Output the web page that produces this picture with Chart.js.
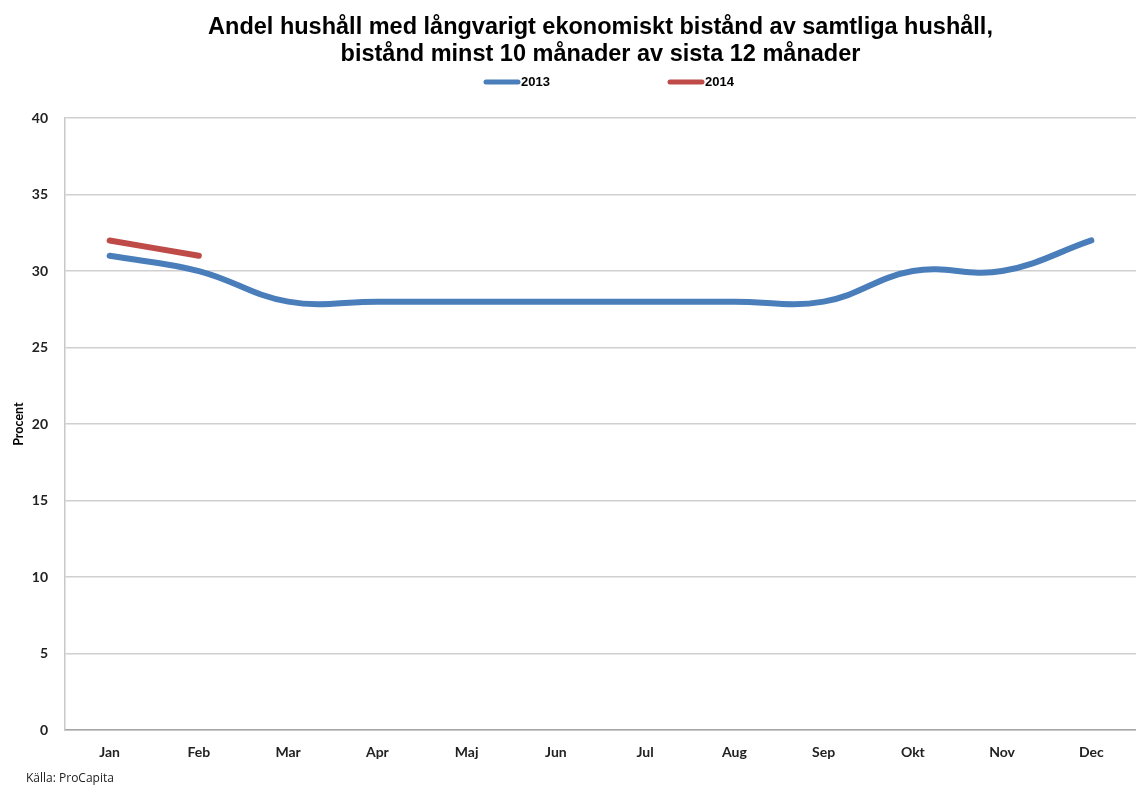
<!DOCTYPE html>
<html>
<head>
<meta charset="utf-8">
<script src="https://cdn.jsdelivr.net/npm/chart.js@4.4.0/dist/chart.umd.min.js"></script>
<style>
  html, body { margin: 0; padding: 0; background: #fff; }
  #wrap { width: 1136px; height: 787px; position: relative; }
</style>
</head>
<body>
<div id="wrap"><canvas id="myChart"></canvas></div>
<script>
const months = ["Jan", "Feb", "Mar", "Apr", "Maj", "Jun", "Jul", "Aug", "Sep", "Okt", "Nov", "Dec"];
const values2013 = [31, 30, 28, 28, 28, 28, 28, 28, 28, 30, 30, 32];
const values2014 = [32, 31];
const yTicks = [0, 5, 10, 15, 20, 25, 30, 35, 40];
const titleLines = [
  "Andel hushåll med långvarigt ekonomiskt bistånd av samtliga hushåll,",
  "bistånd minst 10 månader av sista 12 månader",
];
const sourceText = "Källa: ProCapita";

const blue = "rgb(74, 126, 187)";
const red = "rgb(190, 75, 72)";

// legend + source note drawn by hand
const extras = {
  id: "extras",
  afterDraw(chart) {
    const c = chart.ctx;
    c.save();
    const items = [
      { label: "2013", color: blue, x: 484 },
      { label: "2014", color: red, x: 668 },
    ];
    c.font = "bold 13px 'Liberation Sans', Arial, sans-serif";
    c.textBaseline = "middle";
    items.forEach((it) => {
      c.strokeStyle = it.color;
      c.lineWidth = 5;
      c.lineCap = "round";
      c.beginPath();
      c.moveTo(it.x + 2, 82);
      c.lineTo(it.x + 34, 82);
      c.stroke();
      c.fillStyle = "#000";
      c.fillText(it.label, it.x + 37, 82);
    });
    c.font = "12px 'Open Sans', sans-serif";
    c.fillStyle = "#222";
    c.textBaseline = "middle";
    c.fillText(sourceText, 26, 779);
    c.restore();
  },
};

var ctx = document.getElementById("myChart").getContext("2d");
var chart = new Chart(ctx, {
  type: "line",
  data: {
    labels: months,
    datasets: [
      {
        label: "2013",
        data: values2013,
        borderColor: blue,
        borderWidth: 6,
        tension: 0.4,
        borderCapStyle: "round",
      },
      {
        label: "2014",
        data: values2014,
        borderColor: red,
        borderWidth: 6,
        tension: 0.4,
        borderCapStyle: "round",
      },
    ],
  },
  options: {
    animation: { duration: 0 },
    responsive: true,
    maintainAspectRatio: false,
    layout: { padding: { left: 0, right: 0, top: 0, bottom: 0 } },
    elements: { point: { radius: 0 } },
    plugins: {
      legend: { display: false },
      tooltip: { enabled: false },
      title: {
        display: true,
        fullSize: false,
        text: titleLines,
        color: "#000",
        font: { family: "'Liberation Sans', Arial, sans-serif", size: 23.5, weight: "bold", lineHeight: 1.15 },
        padding: { top: 14, bottom: 50 },
      },
    },
    scales: {
      x: {
        offset: true,
        grid: { display: false, drawTicks: false },
        border: { color: "#a6a6a6", width: 1.5 },
        ticks: {
          color: "#222",
          padding: 14,
          font: { family: "Lato, 'Open Sans', sans-serif", size: 14, weight: "bold" },
        },
        afterFit: (s) => { s.height = 57; },
      },
      y: {
        min: 0,
        max: 40,
        afterBuildTicks: (s) => { s.ticks = yTicks.map((v) => ({ value: v })); },
        grid: { color: "#d0d0d0", lineWidth: 1.5, drawTicks: false },
        border: { color: "#c8c8c8", width: 1.5 },
        ticks: {
          color: "#222",
          padding: 17,
          font: { family: "Lato, 'Open Sans', sans-serif", size: 14, weight: "bold" },
        },
        title: {
          display: true,
          text: "Procent",
          color: "#000",
          padding: { top: 11, bottom: 0 },
          font: { family: "Lato, 'Open Sans', sans-serif", size: 12.5, weight: "bold" },
        },
        afterFit: (s) => { s.width = 65; },
      },
    },
  },
  plugins: [extras],
});
</script>
</body>
</html>
